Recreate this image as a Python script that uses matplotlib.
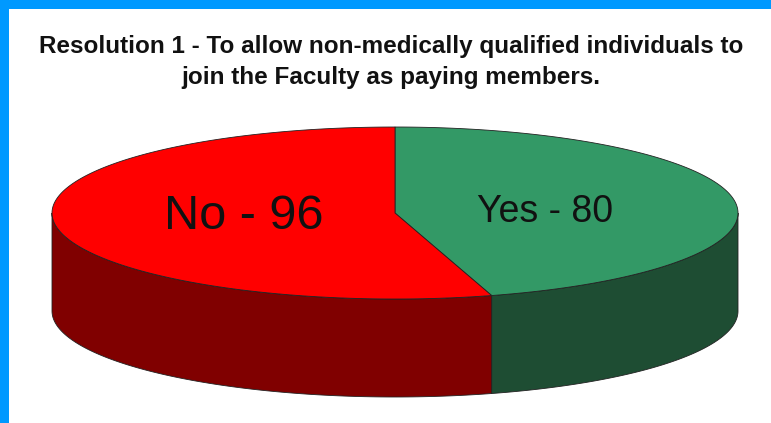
import numpy as np
import matplotlib
matplotlib.use("Agg")
import matplotlib.pyplot as plt
from matplotlib.patches import Polygon, Rectangle

labels = ["Yes", "No"]
values = [80, 96]
top_colors = ["#339966", "#FF0000"]
side_colors = ["#1E4D33", "#800000"]
title_lines = ["Resolution 1 - To allow non-medically qualified individuals to",
               "join the Faculty as paying members."]

W, H = 771, 423
fig = plt.figure(figsize=(W / 100, H / 100), dpi=100)
ax = fig.add_axes([0, 0, 1, 1])
ax.set_xlim(0, W)
ax.set_ylim(H, 0)
ax.axis("off")

# background and blue frame
ax.add_patch(Rectangle((0, 0), W, H, facecolor="white", edgecolor="none", zorder=0))
ax.add_patch(Rectangle((0, 0), 9, H, facecolor="#0099FF", edgecolor="none", zorder=10))
ax.add_patch(Rectangle((0, 0), W, 9, facecolor="#0099FF", edgecolor="none", zorder=10))

cx, cy, a, b, depth = 395, 213, 343, 86, 98


def pt(theta_deg, dy=0.0):
    t = np.radians(theta_deg)
    return cx + a * np.sin(t), cy - b * np.cos(t) + dy


total = sum(values)
angles = [0.0]
for v in values:
    angles.append(angles[-1] + 360.0 * v / total)

# side faces (visible front half: 90..270 deg clockwise from top)
for i in range(len(values)):
    s, e = max(angles[i], 90), min(angles[i + 1], 270)
    if e <= s:
        continue
    th = np.linspace(s, e, 120)
    top = [pt(t) for t in th]
    bot = [pt(t, depth) for t in th[::-1]]
    ax.add_patch(Polygon(top + bot, closed=True, facecolor=side_colors[i],
                         edgecolor="#222222", linewidth=0.6, zorder=2))

# top faces
for i in range(len(values)):
    th = np.linspace(angles[i], angles[i + 1], 200)
    pts = [(cx, cy)] + [pt(t) for t in th]
    ax.add_patch(Polygon(pts, closed=True, facecolor=top_colors[i],
                         edgecolor="#222222", linewidth=0.6, zorder=3))

# labels
ax.text(545, 222, f"{labels[0]} - {values[0]}", fontsize=27, family="Liberation Sans",
        ha="center", va="baseline", color="#111111", zorder=5)
ax.text(243.5, 229, f"{labels[1]} - {values[1]}", fontsize=35, family="Liberation Sans",
        ha="center", va="baseline", color="#111111", zorder=5)

for line, yb in zip(title_lines, [53, 84]):
    ax.text(391, yb, line, fontsize=17.5, family="Liberation Sans", fontweight="bold",
            ha="center", va="baseline", color="#111111", zorder=5)

fig.savefig("out.png", dpi=100)
